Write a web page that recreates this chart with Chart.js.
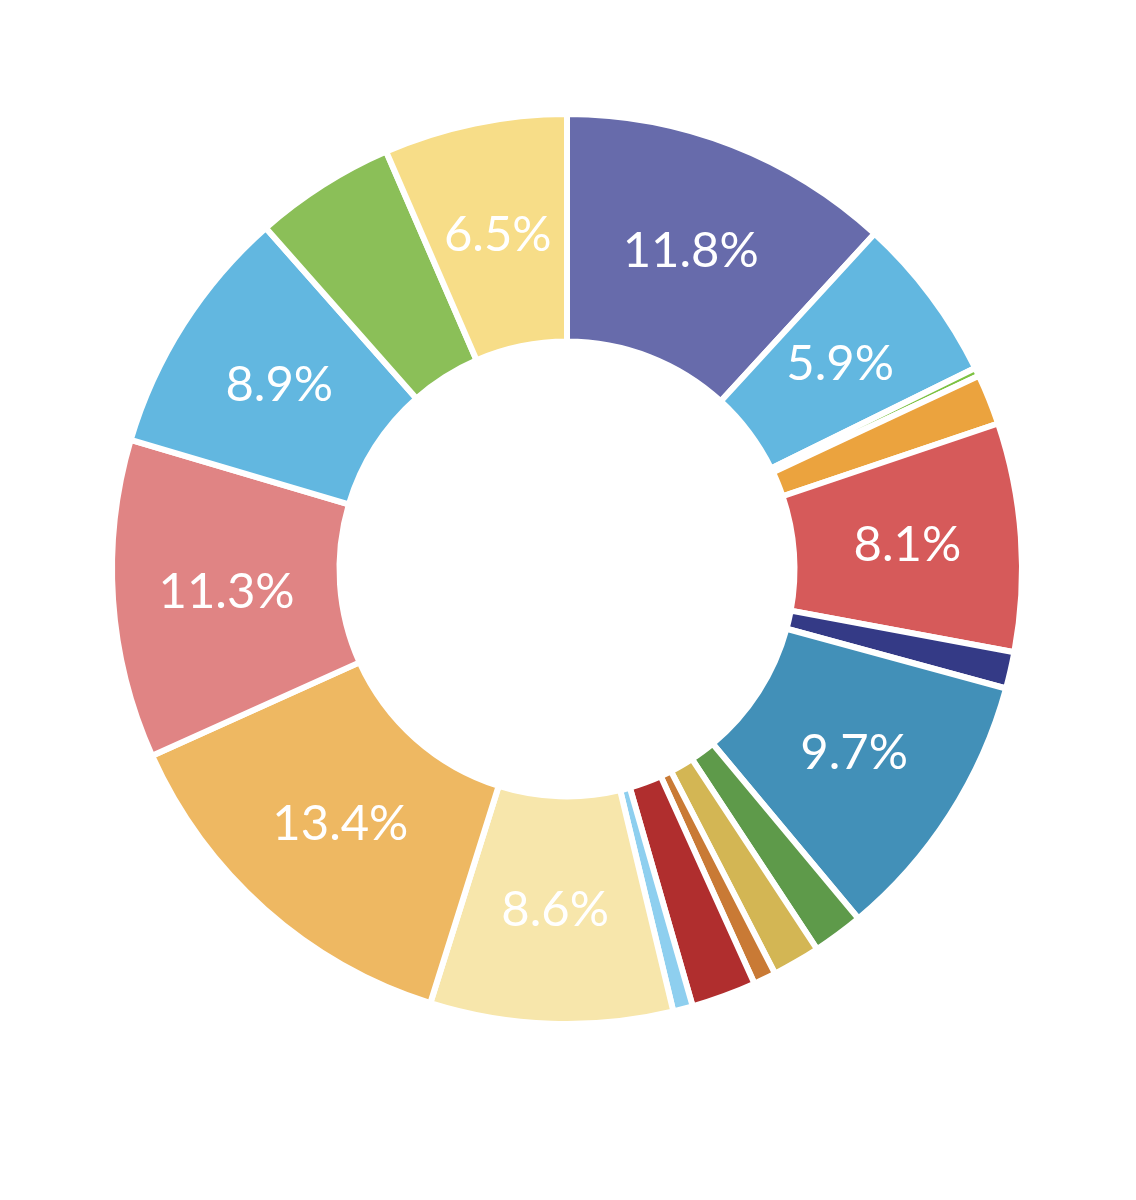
<!DOCTYPE html>
<html>
<head>
<meta charset="utf-8">
<script src="https://cdn.jsdelivr.net/npm/chart.js@4/dist/chart.umd.min.js"></script>
<style>
  body { margin: 0; background: #ffffff; }
  #wrap { width: 1136px; height: 1200px; position: relative; }
</style>
</head>
<body>
<div id="wrap"><canvas id="chart"></canvas></div>
<script>
// slice names (none shown in the picture), values in percent, colours
var categories = ['A', 'B', 'C', 'D', 'E', 'F', 'G', 'H', 'I', 'J', 'K', 'L', 'M', 'N', 'O', 'P', 'Q', 'R'];
var values = [11.8, 5.9, 0.3, 1.8, 8.1, 1.3, 9.7, 1.8, 1.7, 0.8, 2.3, 0.7, 8.6, 13.4, 11.3, 8.9, 5.0, 6.5];
var colors = [
    '#676BAB', '#62B7E0', '#7DC242', '#EBA33E', '#D65A5A', '#343A86',
    '#4290B8', '#5E9A4A', '#D3B654', '#C97A35', '#B02E2E', '#8ECFEF',
    '#F7E6AB', '#EEB862', '#E08484', '#62B7E0', '#8BBF58', '#F7DD88'
];
var labelMin = 5.5;

// draws the percent text in the middle of each big slice
var sliceLabels = {
    id: 'sliceLabels',
    afterDatasetsDraw: function(chart) {
        var ctx = chart.ctx;
        var meta = chart.getDatasetMeta(0);
        ctx.save();
        ctx.fillStyle = '#ffffff';
        ctx.font = '400 49px Lato';
        ctx.textAlign = 'center';
        ctx.textBaseline = 'middle';
        meta.data.forEach(function(arc, i) {
            if (values[i] < labelMin) return;
            var pos = arc.tooltipPosition();
            ctx.fillText(values[i].toFixed(1) + '%', pos.x, pos.y);
        });
        ctx.restore();
    }
};

var context = document.getElementById('chart').getContext('2d');
var myChart = new Chart(context, {
    type: 'doughnut',
    data: {
        labels: categories,
        datasets: [{
            data: values,
            backgroundColor: colors,
            borderColor: '#ffffff',
            borderWidth: 6,
            hoverOffset: 0,
            offset: 0
        }]
    },
    options: {
        responsive: true,
        maintainAspectRatio: false,
        animation: false,
        cutout: '50%',
        layout: {
            padding: { left: 109, right: 111, top: 111, bottom: 173 }
        },
        plugins: {
            legend: { display: false },
            tooltip: { enabled: false }
        }
    },
    plugins: [sliceLabels]
});
</script>
</body>
</html>
